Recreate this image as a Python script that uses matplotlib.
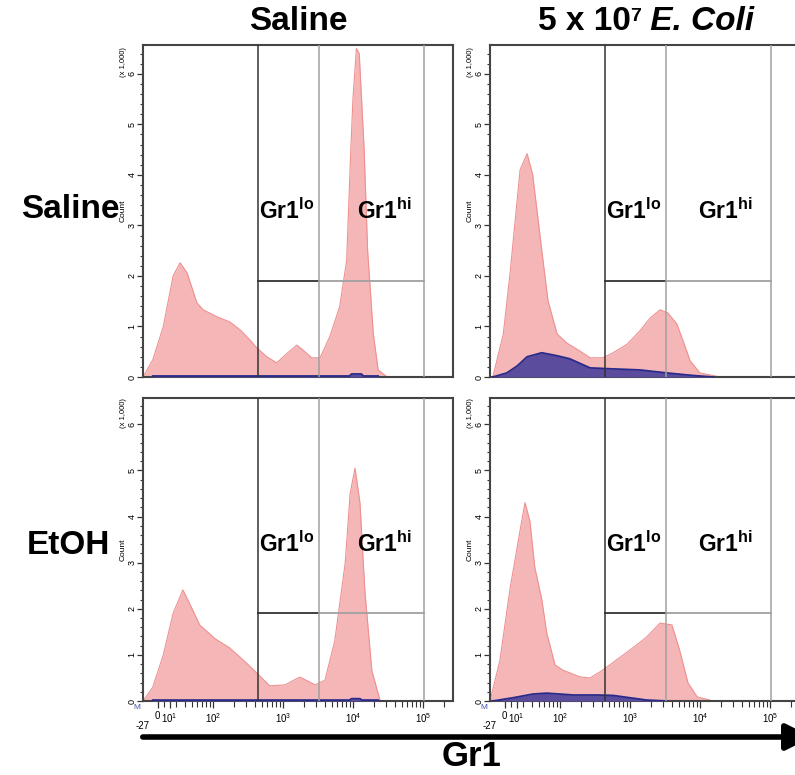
import numpy as np
import matplotlib
matplotlib.use("Agg")
import matplotlib.pyplot as plt

plt.rcParams["font.family"] = ["Liberation Sans", "DejaVu Sans"]
plt.rcParams["mathtext.fontset"] = "custom"
plt.rcParams["mathtext.rm"] = "Liberation Sans"
plt.rcParams["mathtext.bf"] = "Liberation Sans:bold"
plt.rcParams["mathtext.it"] = "Liberation Sans:italic"

# ---- data (x in log10 decades of Gr1, counts in thousands) ----
col_titles = ["Saline", "5 x 10", "7", "E. Coli"]
row_titles = ["Saline", "EtOH"]

sal_sal_x = [1.0, 1.14, 1.29, 1.43, 1.53, 1.63, 1.77, 1.86, 2.06, 2.24, 2.39, 2.53,
             2.63, 2.77, 2.91, 3.06, 3.20, 3.29, 3.41, 3.53, 3.67, 3.81, 3.91, 3.97,
             4.00, 4.05, 4.09, 4.16, 4.21, 4.29, 4.36, 4.49]
sal_sal_y = [0.0, 0.34, 1.0, 2.0, 2.26, 2.06, 1.47, 1.33, 1.19, 1.09, 0.93, 0.73,
             0.57, 0.40, 0.28, 0.47, 0.63, 0.53, 0.38, 0.38, 0.80, 1.39, 2.3, 4.5,
             5.5, 6.5, 6.4, 4.5, 2.5, 0.87, 0.14, 0.0]
sal_sal_bx = [1.14, 3.95, 3.98, 4.12, 4.15, 4.36]
sal_sal_by = [0.02, 0.02, 0.06, 0.06, 0.02, 0.02]

sal_ecoli_x = [1.04, 1.19, 1.29, 1.36, 1.43, 1.53, 1.61, 1.68, 1.74, 1.83, 1.96, 2.10,
               2.29, 2.43, 2.61, 2.76, 2.96, 3.14, 3.29, 3.43, 3.54, 3.67, 3.76, 3.86,
               4.00, 4.29]
sal_ecoli_y = [0.0, 0.85, 2.1, 3.1, 4.1, 4.42, 4.0, 3.2, 2.5, 1.5, 0.85, 0.67,
               0.51, 0.38, 0.38, 0.48, 0.65, 0.91, 1.17, 1.33, 1.27, 1.05, 0.71, 0.32,
               0.08, 0.0]
sal_ecoli_bx = [1.04, 1.24, 1.39, 1.53, 1.74, 1.96, 2.14, 2.43, 2.76, 3.14, 3.53, 3.90, 4.19]
sal_ecoli_by = [0.0, 0.08, 0.22, 0.40, 0.48, 0.42, 0.36, 0.18, 0.16, 0.14, 0.08, 0.03, 0.0]

etoh_sal_x = [1.0, 1.14, 1.29, 1.43, 1.57, 1.67, 1.81, 2.03, 2.24, 2.46, 2.63, 2.81,
              3.03, 3.24, 3.46, 3.60, 3.74, 3.89, 3.96, 4.03, 4.10, 4.17, 4.27, 4.39]
etoh_sal_y = [0.0, 0.3, 1.0, 1.9, 2.41, 2.1, 1.65, 1.35, 1.15, 0.85, 0.6, 0.33,
              0.35, 0.52, 0.35, 0.45, 1.3, 3.0, 4.5, 5.05, 4.3, 2.4, 0.66, 0.0]
etoh_sal_bx = [1.14, 3.95, 3.98, 4.10, 4.13, 4.36]
etoh_sal_by = [0.02, 0.02, 0.05, 0.05, 0.02, 0.02]

etoh_ecoli_x = [1.0, 1.14, 1.29, 1.43, 1.50, 1.57, 1.64, 1.74, 1.81, 1.93, 2.04, 2.29,
                2.43, 2.57, 2.71, 2.86, 3.04, 3.24, 3.43, 3.60, 3.71, 3.83, 3.96, 4.19]
etoh_ecoli_y = [0.0, 0.87, 2.47, 3.7, 4.3, 3.9, 2.9, 2.2, 1.48, 0.78, 0.67, 0.52,
                0.5, 0.63, 0.78, 0.95, 1.15, 1.39, 1.69, 1.65, 1.1, 0.39, 0.09, 0.0]
etoh_ecoli_bx = [1.04, 1.33, 1.61, 1.81, 2.19, 2.53, 2.76, 3.0, 3.24, 3.53]
etoh_ecoli_by = [0.0, 0.07, 0.15, 0.17, 0.13, 0.13, 0.12, 0.07, 0.02, 0.0]

gates = [2.64, 3.52, 5.01]
gate_y = 1.9

x_major = [1.21, 1.38, 2, 3, 4, 5]
x_major_labels = ["0", r"$10^{1}$", r"$10^{2}$", r"$10^{3}$", r"$10^{4}$", r"$10^{5}$"]

PINK = "#F5B6B7"
PINK_EDGE = "#EE9090"
BLUE = "#5B4C9E"
BLUE_EDGE = "#2A2A8A"
DARK = "#333333"
GRAY = "#A0A0A0"

panels = [
    [(sal_sal_x, sal_sal_y, sal_sal_bx, sal_sal_by),
     (sal_ecoli_x, sal_ecoli_y, sal_ecoli_bx, sal_ecoli_by)],
    [(etoh_sal_x, etoh_sal_y, etoh_sal_bx, etoh_sal_by),
     (etoh_ecoli_x, etoh_ecoli_y, etoh_ecoli_bx, etoh_ecoli_by)],
]

W, H = 795, 775
fig = plt.figure(figsize=(W / 100, H / 100), dpi=100)

# pixel boxes: (left, top, right, bottom)
boxes = [
    [(143, 45, 453, 377), (490, 45, 800, 377)],
    [(143, 398, 453, 701), (490, 398, 800, 701)],
]

minor = [d + np.log10(k) for d in range(1, 6) for k in range(2, 10)]
minor = [m for m in minor if m < 5.43]

for r in range(2):
    for c in range(2):
        l, t, rr, b = boxes[r][c]
        ax = fig.add_axes([l / W, 1 - b / H, (rr - l) / W, (b - t) / H])
        x, y, bx, by = panels[r][c]

        ax.fill_between(x, y, color=PINK, lw=0, zorder=1)
        ax.plot(x, y, color=PINK_EDGE, lw=0.8, zorder=2)
        ax.fill_between(bx, by, color=BLUE, lw=0, zorder=3)
        ax.plot(bx, by, color=BLUE_EDGE, lw=1.3, zorder=4)

        ax.axvline(gates[0], color=DARK, lw=1.1, zorder=5)
        ax.axvline(gates[1], color=GRAY, lw=1.1, zorder=5)
        ax.axvline(gates[2], color=GRAY, lw=1.1, zorder=5)
        ax.plot(gates[:2], [gate_y, gate_y], color=DARK, lw=1.3, zorder=5)
        ax.plot(gates[1:], [gate_y, gate_y], color=GRAY, lw=1.3, zorder=5)

        ax.set_xlim(1.0, 5.43)
        ax.set_ylim(0, 6.57)

        for s in ax.spines.values():
            s.set_color("#444444")
            s.set_linewidth(1.5)

        ax.set_yticks(range(7))
        ax.set_yticks(np.arange(0, 6.6, 0.2), minor=True)
        ax.set_yticklabels([str(i) for i in range(7)], rotation=90, va="center")
        ax.tick_params(axis="y", which="major", length=4, width=0.9, labelsize=6.5, pad=0.5,
                       color="#333333")
        ax.tick_params(axis="y", which="minor", length=2.5, width=0.8, color="#333333")

        if r == 1:
            ax.set_xticks(x_major)
            ax.set_xticklabels(x_major_labels)
            ax.set_xticks(minor, minor=True)
            ax.tick_params(axis="x", which="major", length=5, width=0.9, labelsize=7, pad=2,
                           color="#333333")
            ax.tick_params(axis="x", which="minor", length=4, width=0.8, color="#333333")
            ax.text(0.0, -0.065, "-27", transform=ax.transAxes, fontsize=7,
                    ha="center", va="top")
            ax.text(-0.02, -0.01, "M", transform=ax.transAxes, fontsize=6,
                    color="#4455AA", ha="center", va="top")
        else:
            ax.set_xticks([])

        ax.text(-0.064, 0.5, "Count", transform=ax.transAxes, rotation=90,
                fontsize=6, ha="center", va="center")
        ax.text(-0.064, 0.95, "(x 1,000)", transform=ax.transAxes, rotation=90,
                fontsize=5.5, ha="center", va="center")

        lab_y = 3.28 if r == 0 else 3.4
        ax.text(gates[0] + 0.02, lab_y, r"Gr1$^{\mathbf{lo}}$", fontsize=16.5,
                fontweight="bold", ha="left", va="center", zorder=6)
        ax.text(4.06 if c == 0 else 3.97, lab_y, r"Gr1$^{\mathbf{hi}}$", fontsize=16.5,
                fontweight="bold", ha="left", va="center", zorder=6)

# column titles
fig.text(298 / W, 1 - 22 / H, col_titles[0], fontsize=24, fontweight="bold",
         ha="center", va="center")

# right title built from pieces: "5 x 10" + small raised "7" + italic "E. Coli"
renderer = fig.canvas.get_renderer()
pieces = [(col_titles[1], 24, "normal", 0), (col_titles[2], 14, "normal", 9),
          (" " + col_titles[3], 24, "italic", 0)]
arts = []
for txt, fs, st, dy in pieces:
    a = fig.text(0, 0, txt, fontsize=fs, fontweight="bold", style=st,
                 ha="left", va="baseline")
    arts.append((a, dy))
widths = [a.get_window_extent(renderer).width for a, _ in arts]
x0 = 646 - sum(widths) / 2
for (a, dy), w in zip(arts, widths):
    a.set_position((x0 / W, 1 - (30 - dy) / H))
    x0 += w

# row titles
fig.text(70 / W, 1 - 210 / H, row_titles[0], fontsize=24, fontweight="bold",
         ha="center", va="center")
fig.text(68 / W, 1 - 545 / H, row_titles[1], fontsize=24, fontweight="bold",
         ha="center", va="center")

# Gr1 axis arrow
fig.patches.append(matplotlib.patches.FancyArrowPatch(
    (140 / W, 1 - 737 / H), (815 / W, 1 - 737 / H), transform=fig.transFigure,
    arrowstyle="-|>", mutation_scale=40, lw=4, color="black"))
fig.text(472 / W, 1 - 756 / H, "Gr1", fontsize=25, fontweight="bold",
         ha="center", va="center")

fig.savefig("out.png", dpi=100, facecolor="white")
